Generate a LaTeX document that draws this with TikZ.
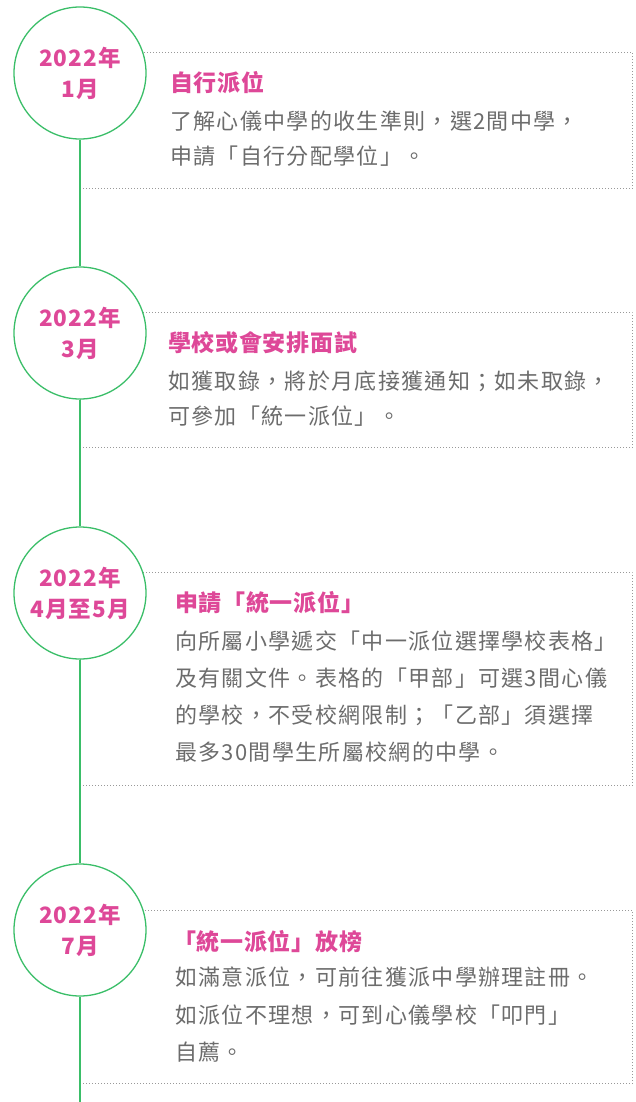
\documentclass[tikz,border=0pt]{standalone}
\usepackage{fontspec}
\usepackage{tikz}
\newfontfamily\cjk[LetterSpace=3]{Noto Sans CJK TC}
\newfontfamily\cjkbody[LetterSpace=6]{Noto Sans CJK TC}
\newfontfamily\cjkdate[LetterSpace=5]{Noto Sans CJK TC}
\definecolor{stagepink}{RGB}{222,72,152}
\definecolor{stagegreen}{RGB}{58,190,104}
\definecolor{bodygray}{RGB}{108,108,108}

\begin{document}
\begin{tikzpicture}[x=1pt,y=-1pt,
      every node/.style={inner sep=0pt},
      datebox/.style={circle,draw=stagegreen,line width=1.3pt,fill=white,minimum size=132pt,
        align=center,text=stagepink,font={\cjkdate\bfseries\fontsize{22.5}{31}\selectfont}},
      infobox/.style={draw=gray!80,line width=0.9pt,dash pattern=on 0.9pt off 2.1pt,anchor=north west},
      headline/.style={anchor=west,text=stagepink,font={\cjk\bfseries\fontsize{23}{26}\selectfont}},
      bodytext/.style={anchor=north west,align=left,text=bodygray,font={\cjkbody\fontsize{22}{35}\selectfont}},
      timeline/.style={draw=stagegreen,line width=1.3pt}]
      \useasboundingbox (0,0) rectangle (635,1102);
      \node[infobox,minimum width=552pt,minimum height=136pt] (b1) at (80,52) {};
      \node[infobox,minimum width=552pt,minimum height=135pt] (b2) at (80,312) {};
      \node[infobox,minimum width=552pt,minimum height=213pt] (b3) at (80,572) {};
      \node[infobox,minimum width=552pt,minimum height=173pt] (b4) at (80,910) {};
      \node[headline] (h1) at (170,83) {自行派位};
      \node[bodytext] (t1) at (170,111) {了解心儀中學的收生準則，選2間中學，\\申請「自行分配學位」。};
      \node[headline] (h2) at (168,343) {學校或會安排面試};
      \node[bodytext] (t2) at (168,371) {如獲取錄，將於月底接獲通知；如未取錄，\\可參加「統一派位」。};
      \node[headline] (h3) at (175,603) {申請「統一派位」};
      \node[bodytext,font={\cjkbody\fontsize{22}{37}\selectfont}] (t3) at (175,631)
        {向所屬小學遞交「中一派位選擇學校表格」\\及有關文件。表格的「甲部」可選3間心儀\\的學校，不受校網限制；「乙部」須選擇\\最多30間學生所屬校網的中學。};
      \node[headline] (h4) at (173,942) {「統一派位」放榜};
      \node[bodytext,font={\cjkbody\fontsize{22}{37.5}\selectfont}] (t4) at (175,967)
        {如滿意派位，可前往獲派中學辦理註冊。\\如派位不理想，可到心儀學校「叩門」\\自薦。};
      \node[datebox] (d1) at (80,73) {2022年\\1月};
      \node[datebox] (d2) at (80,333) {2022年\\3月};
      \node[datebox] (d3) at (80,593) {2022年\\4月至5月};
      \node[datebox] (d4) at (80,930) {2022年\\7月};
      \coordinate (tail) at (80,1102);
      \draw[timeline] (d1) -- (d2);
      \draw[timeline] (d2) -- (d3);
      \draw[timeline] (d3) -- (d4);
      \draw[timeline] (d4) -- (tail);
\end{tikzpicture}
\end{document}
